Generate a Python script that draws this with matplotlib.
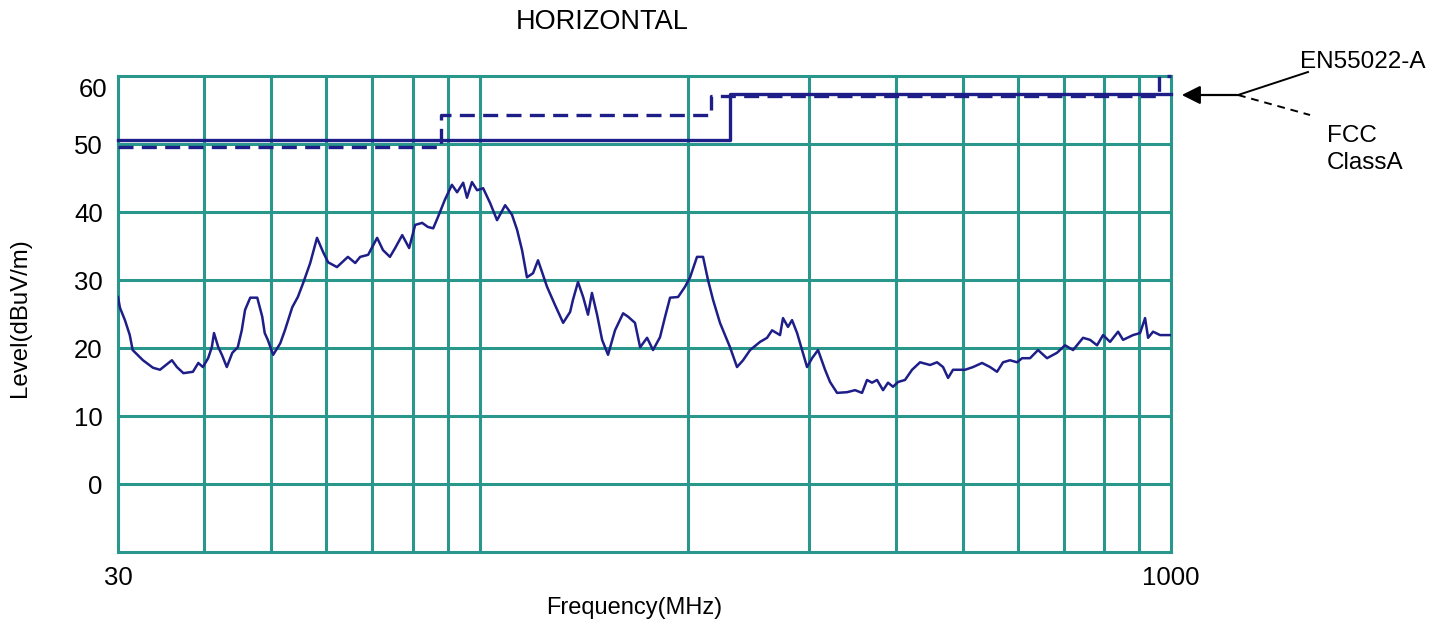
import numpy as np
import matplotlib
matplotlib.use("Agg")
import matplotlib.pyplot as plt

plt.rcParams['font.family'] = ['Liberation Sans', 'DejaVu Sans']

# measured level (horizontal polarisation)
freq = [30.0, 30.2, 30.7, 31.2, 31.5, 32.6, 33.7, 34.5, 35.9, 36.5, 37.3, 38.5, 39.2, 39.8,
        40.5, 41.0, 41.3, 41.9, 42.4, 43.1, 43.9, 44.7, 45.3, 45.8, 46.6, 47.7, 48.5, 48.9,
        49.4, 50.3, 51.5, 52.3, 53.6, 54.6, 55.6, 56.9, 58.2, 59.4, 60.4, 62.2, 64.5, 66.1,
        67.2, 69.0, 71.1, 72.5, 74.2, 75.5, 77.3, 79.1, 80.7, 82.6, 84.2, 85.7, 87.1, 89.1,
        91.2, 92.8, 94.7, 95.9, 97.5, 99.2, 101.2, 103.6, 106.0, 108.9, 111.4, 113.3, 115.2,
        117.1, 119.5, 121.5, 123.1, 125.2, 128.6, 132.1, 135.2, 136.5, 138.8, 141.2, 143.5,
        145.4, 147.9, 150.4, 153.4, 157.0, 161.3, 164.0, 167.8, 170.7, 174.7, 178.2, 182.4,
        185.5, 188.6, 193.7, 198.2, 201.6, 206.3, 210.5, 214.0, 217.6, 222.7, 230.3, 235.7,
        240.5, 246.2, 254.5, 260.5, 264.9, 272.0, 274.7, 279.3, 283.1, 287.9, 292.7, 297.6,
        302.6, 308.7, 316.0, 321.3, 328.9, 340.0, 349.2, 357.4, 363.4, 369.5, 375.7, 383.3,
        389.7, 396.3, 402.9, 412.4, 422.2, 433.6, 448.3, 458.8, 468.1, 476.0, 483.9, 492.1,
        503.7, 517.3, 533.0, 547.4, 560.3, 571.6, 585.1, 598.9, 609.0, 625.4, 642.3, 661.8,
        684.2, 702.7, 721.7, 746.1, 763.7, 781.7, 797.5, 816.3, 838.4, 852.5, 881.3, 902.1,
        917.3, 926.5, 942.1, 964.3, 996.9]
level = [27.5, 25.9, 24.1, 21.9, 19.7, 18.2, 17.1, 16.8, 18.2, 17.2, 16.3, 16.5, 17.8, 17.2,
         18.5, 20.1, 22.2, 20.1, 19.0, 17.2, 19.3, 20.1, 22.6, 25.6, 27.4, 27.4, 24.6, 22.2,
         21.2, 19.0, 20.7, 22.6, 26.0, 27.5, 29.6, 32.5, 36.2, 34.1, 32.6, 31.9, 33.4, 32.5,
         33.4, 33.7, 36.2, 34.4, 33.4, 34.7, 36.6, 34.7, 38.1, 38.4, 37.8, 37.6, 39.3, 41.8,
         44.0, 42.9, 44.3, 42.1, 44.4, 43.2, 43.5, 41.3, 38.8, 41.0, 39.6, 37.4, 34.4,
         30.4, 31.0, 32.9, 31.2, 29.0, 26.3, 23.7, 25.3, 27.1, 29.7, 27.5, 24.9,
         28.1, 24.9, 21.2, 19.0, 22.6, 25.1, 24.6, 23.7, 20.1, 21.5, 19.7, 21.6,
         24.6, 27.4, 27.5, 29.0, 30.4, 33.4, 33.4, 30.0, 27.1, 23.7, 20.1, 17.2,
         18.2, 19.7, 20.9, 21.5, 22.6, 21.9, 24.4, 23.1, 24.1, 22.2, 19.7, 17.2,
         18.5, 19.7, 16.8, 15.0, 13.4, 13.5, 13.8, 13.4, 15.3, 14.9, 15.3, 13.8,
         14.9, 14.3, 15.0, 15.3, 16.8, 17.9, 17.5, 17.9, 17.2, 15.6, 16.8, 16.8,
         16.8, 17.2, 17.8, 17.2, 16.5, 17.9, 18.2, 17.9, 18.5, 18.5, 19.7, 18.5,
         19.3, 20.4, 19.7, 21.5, 21.2, 20.4, 21.9, 20.9, 22.4, 21.2, 21.9, 22.2,
         24.4, 21.5, 22.4, 21.9, 21.9]

# limit lines
en_freq = [30, 230, 1000]
en_level = [50.6, 57.3, 57.3]
fcc_freq = [30, 88, 216, 960, 1000]
fcc_level = [49.6, 54.3, 57.1, 60.0, 60.0]

grid_freqs = [40, 50, 60, 70, 80, 90, 100, 200, 300, 400, 500, 600, 700, 800, 900]
grid_levels = [0, 10, 20, 30, 40, 50]

teal = '#2a978d'
navy = '#1e1e88'

fig = plt.figure(figsize=(14.44, 6.29), dpi=100)
ax = fig.add_axes([118 / 1444, 1 - 552 / 629, (1171 - 118) / 1444, (552 - 76) / 629])
ax.set_xscale('log')
ax.set_xlim(30, 1000)
ax.set_ylim(-10, 60)

for f in grid_freqs:
    ax.axvline(f, color=teal, lw=2.2, zorder=1)
for l in grid_levels:
    ax.axhline(l, color=teal, lw=2.2, zorder=1)
for s in ax.spines.values():
    s.set_color(teal)
    s.set_linewidth(2.2)

ax.plot(en_freq, en_level, drawstyle='steps-post', color=navy, lw=2.4, zorder=3, clip_on=False)
ax.plot(fcc_freq, fcc_level, drawstyle='steps-post', color=navy, lw=2.4, dashes=(4.5, 2.5),
        zorder=3, clip_on=False)
ax.plot(freq, level, color=navy, lw=1.8, zorder=4)

ax.set_xticks([30, 1000])
ax.set_xticklabels(['30', '1000'])
ax.xaxis.set_minor_locator(matplotlib.ticker.NullLocator())
ax.set_yticks(grid_levels)
ax.set_yticklabels([str(v) for v in grid_levels])
ax.tick_params(axis='both', length=0, labelsize=18.5)
ax.tick_params(axis='y', pad=11)
ax.tick_params(axis='x', pad=10)
ax.text(-0.0105, 58.0, '60', transform=ax.get_yaxis_transform(), ha='right', va='center',
        fontsize=18.5)

fig.text(634 / 1444, 1 - 608 / 629, 'Frequency(MHz)', ha='center', va='center', fontsize=17)
fig.text(20 / 1444, 1 - 318 / 629, 'Level(dBuV/m)', rotation=90, ha='center', va='center',
         fontsize=17.3)
fig.text(602 / 1444, 1 - 22 / 629, 'HORIZONTAL', ha='center', va='center', fontsize=19.5)

# legend annotation at the right
def fx(x):
    return x / 1444

def fy(y):
    return 1 - y / 629

fig.add_artist(matplotlib.patches.FancyArrowPatch((fx(1240), fy(95)), (fx(1179), fy(95)),
               transform=fig.transFigure, arrowstyle='-|>', mutation_scale=28, color='black',
               lw=1.6))
fig.add_artist(matplotlib.lines.Line2D([fx(1238), fx(1308)], [fy(95), fy(72)],
               transform=fig.transFigure, color='black', lw=1.4))
fig.add_artist(matplotlib.lines.Line2D([fx(1238), fx(1310)], [fy(95), fy(115)],
               transform=fig.transFigure, color='black', lw=1.4, ls=(0, (4, 3))))
fig.text(fx(1300), fy(62), 'EN55022-A', ha='left', va='center', fontsize=17.5)
fig.text(fx(1327), fy(136), 'FCC', ha='left', va='center', fontsize=17.5)
fig.text(fx(1327), fy(163), 'ClassA', ha='left', va='center', fontsize=17.5)

fig.savefig('out.png', dpi=100)
